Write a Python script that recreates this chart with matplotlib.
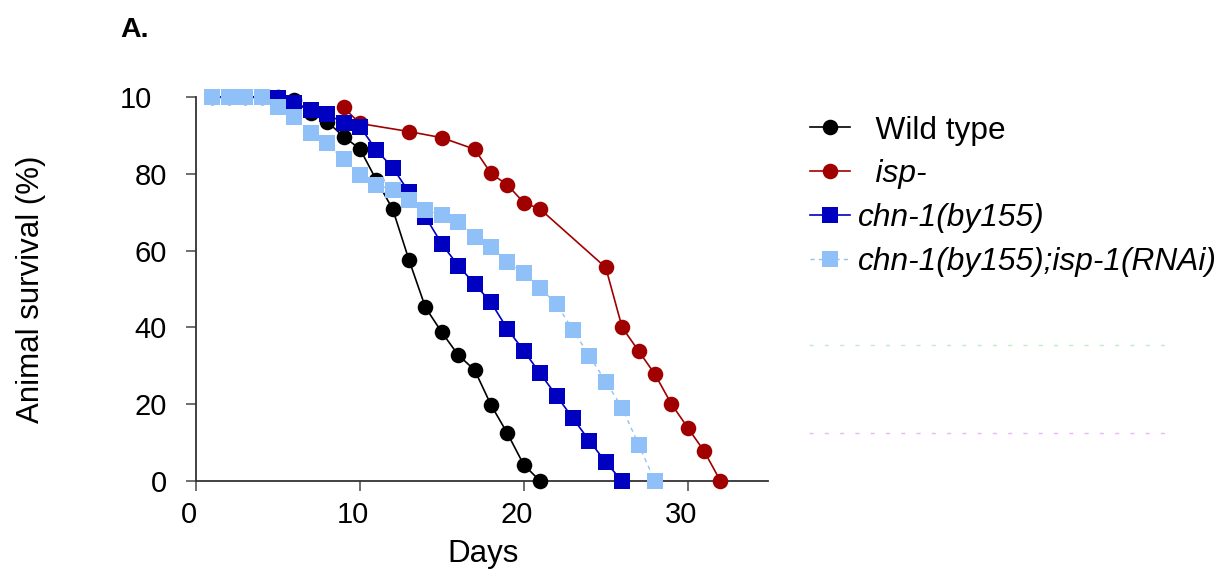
import matplotlib
matplotlib.use("Agg")
import matplotlib.pyplot as plt
from matplotlib.lines import Line2D
from matplotlib.transforms import ScaledTranslation

plt.rcParams['font.family'] = ['Liberation Sans', 'DejaVu Sans']

# ---- data ----
wt_days = list(range(1, 22))
wt_surv = [100, 100, 100, 100, 100, 99.2, 95.8, 93.6, 89.7, 86.5, 78.4, 70.8,
           57.5, 45.2, 38.7, 32.8, 28.9, 19.8, 12.4, 4.2, 0]

isp_days = [9, 10, 13, 15, 17, 18, 19, 20, 21, 25, 26, 27, 28, 29, 30, 31, 32]
isp_surv = [97.3, 93.1, 91.0, 89.4, 86.4, 80.1, 77.1, 72.5, 70.8, 55.6, 40.0,
            33.9, 27.8, 20.1, 13.9, 7.8, 0]

chn_days = list(range(1, 27))
chn_surv = [100, 100, 100, 100, 99.8, 98.4, 96.6, 95.7, 93.1, 92.3, 86.2, 81.6,
            75.2, 68.8, 61.7, 56.1, 51.3, 46.5, 39.6, 33.9, 28.0, 22.2, 16.3,
            10.5, 4.9, 0]

rnai_days = list(range(1, 29))
rnai_surv = [100, 100, 100, 100, 97.5, 94.9, 90.7, 87.9, 83.8, 79.7, 77.2, 75.8,
             73.2, 70.6, 69.3, 67.5, 63.6, 61.0, 57.0, 54.2, 50.2, 46.1, 39.3,
             32.6, 25.9, 19.1, 9.5, 0]

labels = ["  Wild type", "  isp-", "chn-1(by155)", "chn-1(by155);isp-1(RNAi)"]
xticks = [0, 10, 20, 30]
yticks = [0, 20, 40, 60, 80, 100]
ytick_labels = ["0", "20", "40", "60", "80", "10"]

W, H = 1225, 569
fig = plt.figure(figsize=(W / 100, H / 100), dpi=100)
ax = fig.add_axes([196 / W, 88 / H, 572 / W, 384 / H])

ax.plot(wt_days, wt_surv, color='black', lw=1.2, marker='o', ms=11.2,
        mew=0, label=labels[0], clip_on=False, zorder=3)
ax.plot(isp_days, isp_surv, color='#a00000', lw=1.2, marker='o', ms=11.2,
        mew=0, label=labels[1], clip_on=False, zorder=4)
ax.plot(chn_days, chn_surv, color='#0000c0', lw=1.2, marker='s', ms=11.2,
        mew=0, label=labels[2], clip_on=False, zorder=5)
ax.plot(rnai_days, rnai_surv, color='#90c0f8', lw=1.0, ls=(0, (3, 3)),
        marker='s', ms=11.2, mew=0, label=labels[3], clip_on=False, zorder=6)

ax.set_xlim(0, 34.9)
ax.set_ylim(0, 100)
ax.set_xticks(xticks)
ax.set_xticklabels([str(t) for t in xticks])
ax.set_yticks(yticks)
ax.set_yticklabels(ytick_labels)

for s in ['top', 'right']:
    ax.spines[s].set_visible(False)
for s in ['left', 'bottom']:
    ax.spines[s].set_color('#333333')
    ax.spines[s].set_linewidth(1.3)
ax.tick_params(direction='out', length=7.5, width=1.2, color='#555555',
               labelsize=21)
ax.tick_params(axis='x', pad=7)
ax.tick_params(axis='y', pad=13.5)

# shift tick labels slightly, as in the original
for tk in ax.xaxis.get_major_ticks():
    tk.label1.set_transform(tk.label1.get_transform() +
                            ScaledTranslation(-0.07, 0, fig.dpi_scale_trans))
top_tick = ax.yaxis.get_major_ticks()[-1]
top_tick.label1.set_transform(top_tick.label1.get_transform() +
                              ScaledTranslation(-0.15, 0, fig.dpi_scale_trans))

ax.set_xlabel("Days", fontsize=22.5, va='top')
ax.xaxis.set_label_coords(0.502, -0.152)
ax.set_ylabel("Animal survival (%)", fontsize=22.5, va='center')
ax.yaxis.set_label_coords(-0.288, 0.5)

leg = ax.legend(loc='upper left', bbox_to_anchor=(810 / W, 1 - 115.5 / H),
                bbox_transform=fig.transFigure, frameon=False, fontsize=22.8,
                borderpad=0, borderaxespad=0, handlelength=1.26,
                handletextpad=0.25, labelspacing=0.44, markerscale=1.0)
for t in leg.get_texts()[1:]:
    t.set_fontstyle('italic')

# faint decorative dashed lines in the legend area
for yy, col in [(345, '#c0eec0'), (433, '#e6bcf0')]:
    fig.add_artist(Line2D([809 / W, 1168 / W], [1 - yy / H, 1 - yy / H],
                          transform=fig.transFigure, color=col, lw=1.0,
                          ls=(0, (3, 8))))

fig.text(120 / W, 1 - 30 / H, "A.", fontsize=20.5, fontweight='bold',
         ha='left', va='center')

fig.savefig("out.png", dpi=100)
